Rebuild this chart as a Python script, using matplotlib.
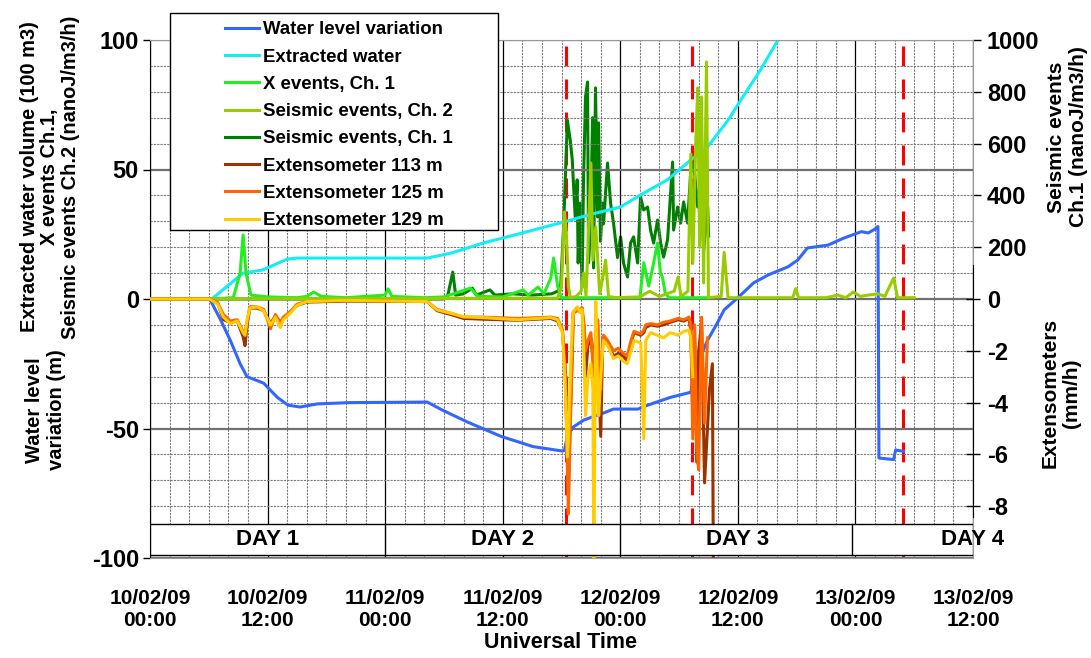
import matplotlib.pyplot as plt
import numpy as np
from matplotlib.patches import Rectangle
from matplotlib.ticker import MultipleLocator

plt.rcParams['font.family'] = ['Liberation Sans', 'DejaVu Sans']
plt.rcParams['font.weight'] = 'bold'
plt.rcParams['axes.unicode_minus'] = False

# time in hours from 10/02/09 00:00 UT
water_t = [0, 6.1, 7.2, 8.2, 9.2, 9.9, 11.6, 13.0, 14.1, 15.3, 17.1, 20.4, 28.3, 29.9, 32.4,
           35.8, 39.1, 42.1, 42.3, 42.6, 43.2, 44.3, 46.3, 47.3, 49.8, 50.8, 53.1, 55.2, 55.5,
           56.2, 56.9, 57.9, 58.6, 60.0, 61.6, 63.1, 65.1, 66.1, 67.1, 69.2, 70.8, 72.6, 73.3,
           74.0, 74.3, 74.4, 75.9, 76.1, 76.9]
water_v = [0, 0, -8, -16, -25, -30, -32.5, -38, -41, -41.7, -40.5, -40, -39.8, -43, -47.5,
           -53, -57, -58.7, -58.5, -53, -49.4, -46.7, -44, -42.5, -42.5, -41, -38, -36, -30,
           -22, -16, -9.3, -4.2, 0.5, 6.2, 9.3, 12.4, 15, 19.7, 20.8, 23.5, 26, 25.5,
           27, 28, -61.4, -62, -58.3, -58.8]

extracted_t = [0, 6.1, 6.4, 9.5, 11.5, 14.0, 15.0, 28.3, 30.7, 34.0, 37.5, 42.2, 44.7, 48.0,
               50.4, 52.8, 55.2, 56.9, 59.0, 60.3, 62.3, 64.1, 64.5]
extracted_v = [0, 0, 0.3, 10, 11.2, 15.4, 15.8, 15.8, 17.7, 21.6, 25, 29.7, 32.4, 35.5,
               40.9, 46, 53.7, 58.7, 69, 76.8, 88.4, 100, 103]

xev_t = [0, 6.1, 8.5, 9.2, 9.5, 9.8, 10.3, 12, 15, 16, 16.7, 17.5, 20, 24, 24.3, 24.7, 28, 30,
         32.7, 33.5, 36, 38.1, 38.6, 39.6, 40.2, 40.9, 41.2, 41.6, 42.0, 50, 50.4, 50.9, 51.3,
         51.8, 52.1, 52.3, 52.6, 53, 57]
xev_v = [0, 0, 0.5, 10, 24.7, 10, 1.5, 0.8, 0.5, 1, 2.7, 1, 0.5, 1.5, 3.9, 1, 0.5, 0.8,
         4.2, 1, 0.8, 3.5, 1.5, 4.6, 2, 8, 15.8, 5, 0.5, 0.5, 14, 5, 12, 21.6, 10, 8.5, 2, 0.5, 0.5]

ch2_t = [0, 41.6, 42.0, 42.3, 42.5, 42.7, 42.9, 43.5, 44.0, 44.25, 44.5, 44.7, 45.0, 45.2, 45.5,
         45.9, 46.3, 46.5, 46.8, 47.5, 50, 51.0, 52.0, 53.5, 53.9, 54.2, 54.9, 55.2, 55.4, 55.7,
         55.9, 56.1, 56.3, 56.5, 56.8, 57.0, 58.3, 58.6, 59.0, 65.6, 65.9, 66.2, 69, 70.2, 71.0,
         71.8, 72.5, 73.3, 74.3, 75, 75.9, 76.3, 78]
ch2_v = [0, 0.3, 5, 33.6, 25, 5, 0.5, 1, 3, 10, 1, 20, 52.5, 15, 27.8,
         2, 10, 15, 1, 0.5, 0.8, 3, 1, 3, 8.5, 1, 3, 56, 13.9, 60,
         81.5, 20, 78, 6.2, 91.5, 0.5, 1, 18, 0.5, 0.5, 4, 0.5, 0.5, 1.5, 0.5,
         2.7, 1, 1.5, 2, 1, 8.1, 0.5, 0.5]

# seismic events Ch.1, nanoJ/m3/h (right axis)
ch1_t = [0, 29.9, 30.4, 30.9, 31.2, 32.0, 32.9, 33.3, 34.7, 35.2, 37, 39, 41, 41.9, 42.2, 42.6,
         42.9, 43.1, 43.2, 43.4, 43.6, 43.7, 43.9, 44.1, 44.25, 44.45, 44.66, 44.76, 44.96,
         45.17, 45.27, 45.47, 45.68, 45.78, 45.98, 46.19, 46.29, 46.7, 47.01, 47.31, 47.72,
         48.03, 48.33, 48.74, 49.05, 49.36, 49.77, 50.07, 50.38, 50.79, 51.09, 51.4, 51.81,
         52.12, 52.42, 52.83, 53.34, 53.44, 53.85, 54.16, 54.47, 54.87, 55.18, 55.49, 55.9,
         56.2, 56.51, 56.92, 57.02]
ch1_v = [0, 0, 15, 104, 15, 20, 42, 15, 35, 15, 20, 15, 20, 35, 266, 690,
         610, 537, 460, 317, 460, 139, 370, 46, 460, 780, 838, 140, 266,
         700, 120, 815, 317, 680, 223, 370, 290, 525, 370, 293, 160,
         240, 139, 85, 216, 240, 139, 394, 344, 355, 266, 216, 305,
         216, 162, 230, 529, 266, 355, 293, 375, 293, 486, 525, 355,
         470, 189, 355, 243]

# extensometers, mm/h (right axis)
ext_t = [0, 6.1, 6.9, 7.5, 8.2, 8.9, 9.5, 9.7, 9.9, 10.2, 10.9, 11.6, 12.3, 12.8, 13.3, 13.6,
         14.3, 15.0, 16.0, 20.0, 28.3, 29.3, 30.7, 32.0, 34.0, 37.5, 40.9, 41.6, 42.1, 42.4,
         42.6, 42.7, 42.9, 43.1, 43.2, 43.6, 43.9, 44.1, 44.3, 44.45, 44.7, 45.0, 45.2, 45.3,
         45.5, 45.7, 45.8, 46.0, 46.2, 46.3, 46.7, 47.3, 47.8, 48.3, 48.7, 49.1, 49.4, 50.1,
         50.4, 50.6, 51.1, 51.8, 52.4, 53.1, 53.9, 54.5, 55.0, 55.2, 55.4, 55.6, 55.8, 56.0,
         56.3, 56.6, 56.9, 57.1, 57.4, 57.5]
ext113_v = [0, 0, -0.15, -0.8, -0.9, -0.85, -1.45, -1.8, -1.0, -0.35, -0.35, -0.45, -0.95, -0.65,
            -0.9, -0.75, -0.5, -0.25, -0.12, -0.08, -0.1, -0.45, -0.6, -0.75, -0.78, -0.82, -0.75,
            -0.85, -1.25, -2.8, -6.0, -7.5, -4.5, -2.0, -0.5, -0.4, -0.5, -0.35, -1.2, -3.0, -1.8,
            -1.5, -2.2, -2.5, -1.4, -1.0, -3.0, -5.3, -1.7, -1.5, -1.7, -2.2, -2.1, -2.2, -2.4,
            -1.7, -1.3, -1.4, -1.3, -1.1, -1.0, -1.05, -1.0, -0.9, -0.8, -0.85, -0.75, -1.2, -4.6,
            -1.5, -6.3, -2.0, -0.9, -7.1, -5.0, -3.5, -2.5, -10.5]
ext125_v = [0, 0, -0.15, -0.6, -0.85, -0.8, -1.25, -1.3, -0.9, -0.3, -0.3, -0.4, -1.15, -0.6,
            -0.95, -0.7, -0.5, -0.2, -0.1, -0.05, -0.1, -0.4, -0.55, -0.7, -0.7, -0.75, -0.7,
            -0.75, -1.2, -3.0, -6.5, -8.3, -4.8, -2.2, -0.55, -0.45, -0.4, -0.35, -1.0, -2.0,
            -1.6, -1.3, -2.5, -3.0, -1.2, -0.8, -2.5, -3.5, -1.5, -1.4, -1.6, -2.0, -1.9, -2.1,
            -2.2, -1.6, -1.25, -1.35, -1.2, -1.0, -0.95, -1.0, -0.9, -0.85, -0.75, -0.8, -0.7,
            -1.0, -5.4, -1.0, -5.8, -6.6, -0.7, -4.8, -1.5, np.nan, np.nan, np.nan]
ext129_v = [0, 0, -0.2, -0.7, -0.95, -0.85, -1.3, -1.4, -0.8, -0.35, -0.3, -0.45, -1.0, -0.7,
            -1.1, -0.8, -0.55, -0.25, -0.1, -0.05, -0.1, -0.42, -0.55, -0.68, -0.72, -0.8, -0.72,
            -0.8, -1.3, -3.5, -6.1, -5.5, -3.0, -1.0, -0.5, -0.3, -0.5, -0.4, -2.2, -4.5, -3.0,
            -2.5, -3.5, -10.5, -0.1, -3.5, -4.5, -3.0, -2.0, -1.6, -1.8, -2.3, -2.2, -2.4, -2.5,
            -2.0, -1.6, -1.7, -5.4, -1.6, -1.3, -1.4, -1.5, -1.3, -1.4, -1.25, -1.2, -1.5, -3.0,
            np.nan, np.nan, np.nan, np.nan, np.nan, np.nan, np.nan, np.nan, np.nan]

red_lines = [42.5, 55.3, 76.9]
day_names = ['DAY 1', 'DAY 2', 'DAY 3', 'DAY 4']
day_centers = [12, 36, 60, 84]
day_bounds = [24, 48, 71.6]
xtick_pos = [0, 12, 24, 36, 48, 60, 72, 84]
xtick_labels = ['10/02/09\n00:00', '10/02/09\n12:00', '11/02/09\n00:00', '11/02/09\n12:00',
                '12/02/09\n00:00', '12/02/09\n12:00', '13/02/09\n00:00', '13/02/09\n12:00']

W, H = 1091, 658
fig = plt.figure(figsize=(W / 100, H / 100), dpi=100)
ax = fig.add_axes([150 / W, 100 / H, 823 / W, 518 / H])
ax_s = ax.twinx()
ax_e = ax.twinx()
ax_s.set_zorder(0)
ax.set_zorder(1)
ax_e.set_zorder(2)
ax_s.patch.set_visible(True)
ax_s.patch.set_facecolor('white')
ax.patch.set_visible(False)

lw = 2.2
l_water, = ax.plot(water_t, water_v, color='#3366FF', lw=lw, label='Water level variation')
l_extr, = ax.plot(extracted_t, extracted_v, color='#11EEF8', lw=lw, label='Extracted water')
l_xev, = ax.plot(xev_t, xev_v, color='#22EE22', lw=lw, label='X events, Ch. 1')
l_ch2, = ax.plot(ch2_t, ch2_v, color='#99CC00', lw=lw, label='Seismic events, Ch. 2')
l_ch1, = ax_s.plot(ch1_t, ch1_v, color='#008000', lw=lw, label='Seismic events, Ch. 1')
l_113, = ax_e.plot(ext_t, ext113_v, color='#993300', lw=lw, label='Extensometer 113 m')
l_125, = ax_e.plot(ext_t, ext125_v, color='#FF6600', lw=lw, label='Extensometer 125 m')
l_129, = ax_e.plot(ext_t, ext129_v, color='#FFCC00', lw=lw, label='Extensometer 129 m')

for xr in red_lines:
    ax_s.plot([xr, xr], [0.988, 0.0], transform=ax_s.get_xaxis_transform(),
              color='red', lw=2.2, dashes=(6.5, 4.3), zorder=1)

ax.set_xlim(0, 84)
ax.set_ylim(-100, 100)
ax_s.set_ylim(-1000, 1000)
ax_e.set_ylim(-10, 10)

ax.set_xticks(xtick_pos)
ax.set_xticklabels(xtick_labels, fontsize=15, linespacing=1.22)
ax.xaxis.set_minor_locator(MultipleLocator(2))
ax.set_yticks([-100, -50, 0, 50, 100])
ax.yaxis.set_minor_locator(MultipleLocator(10))
ax.tick_params(axis='x', which='both', length=0, pad=22)
ax.tick_params(axis='y', which='major', direction='out', length=5, width=1, labelsize=17, pad=3)
ax.tick_params(axis='y', which='minor', length=0)

ax.set_axisbelow(True)
ax.grid(which='minor', color='#7a7a7a', lw=0.8, ls=(0, (2, 1)))
ax.grid(which='major', axis='x', color='black', lw=0.9)
ax.grid(which='major', axis='y', color='#707070', lw=1.6)

ax_s.set_yticks([200, 400, 600, 800, 1000])
ax_s.tick_params(axis='y', direction='out', length=6, width=1, labelsize=17, pad=4)
ax_e.set_yticks([-8, -6, -4, -2, 0])
ax_e.tick_params(axis='y', direction='inout', length=10, width=1, labelsize=17, pad=5)

for a in (ax, ax_s, ax_e):
    for s in a.spines.values():
        s.set_visible(False)
ax.spines['left'].set_visible(True)
ax.spines['left'].set_color('black')
for side in ('top', 'bottom'):
    ax.spines[side].set_visible(True)
    ax.spines[side].set_color('#999999')
ax_s.spines['right'].set_visible(True)
ax_s.spines['right'].set_color('#999999')
ax_e.spines['right'].set_visible(True)
ax_e.spines['right'].set_color('black')
ax_e.spines['right'].set_bounds(-8.4, 1.3)

# day band
ax_e.add_patch(Rectangle((0, 0.0058), 1, 0.06, transform=ax_e.transAxes,
                         fc='white', ec='black', lw=1, zorder=10))
xtr = ax_e.get_xaxis_transform()
for xb in day_bounds:
    ax_e.plot([xb, xb], [0.0058, 0.0658], transform=xtr, color='black', lw=1, zorder=11)
for name, xc in zip(day_names, day_centers):
    ax_e.text(xc, 0.036, name, transform=xtr, ha='center', va='center', fontsize=16,
              zorder=12, clip_on=False)

# axis titles
fig.text(50 / W, 1 - 177 / H, 'Extracted water volume (100 m3)\nX events Ch.1,\n'
         'Seismic events Ch.2 (nanoJ/m3/h)', rotation=90, ha='center', va='center',
         multialignment='center', fontsize=14.4, linespacing=1.12)
fig.text(45 / W, 1 - 410 / H, 'Water level\nvariation (m)', rotation=90, ha='center',
         va='center', multialignment='center', fontsize=14.5)
fig.text(1068 / W, 1 - 137 / H, 'Seismic events\nCh.1 (nanoJ/m3/h)', rotation=90,
         ha='center', va='center', multialignment='center', fontsize=15)
fig.text(1061 / W, 1 - 393 / H, 'Extensometers\n(mm/h)', rotation=90, ha='center',
         va='center', multialignment='center', fontsize=15)
fig.text(561 / W, 1 - 643 / H, 'Universal Time', ha='center', va='center', fontsize=15.5)

# legend with its own frame
fig.add_artist(Rectangle((170 / W, 1 - 230 / H), 328 / W, 217 / H, transform=fig.transFigure,
                         fc='white', ec='black', lw=1, zorder=4))
handles = [l_water, l_extr, l_xev, l_ch2, l_ch1, l_113, l_125, l_129]
fig.legend(handles, [h.get_label() for h in handles], loc='upper left',
           bbox_to_anchor=(216 / W, 1 - 12 / H), frameon=False, borderpad=0,
           fontsize=13.4, handlelength=1.8, handletextpad=0.25, labelspacing=0.55)

fig.savefig('out.png', dpi=100)
